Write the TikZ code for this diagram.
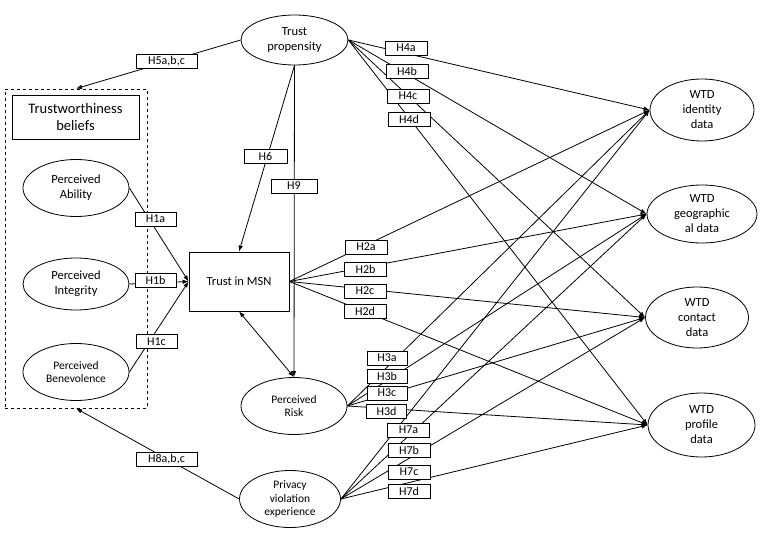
\documentclass[tikz,border=0pt]{standalone}
\usepackage{fontspec}
\setmainfont{Carlito}
\usetikzlibrary{arrows.meta,shapes.geometric}
\begin{document}
\begin{tikzpicture}[x=1pt,y=-1pt,
  ell/.style={draw, ellipse, inner sep=0pt, align=center, line width=0.8pt, font=\fontsize{12.5}{15}\selectfont},
  sell/.style={ell, font=\fontsize{11.5}{13.8}\selectfont},
  box/.style={draw, rectangle, inner sep=0pt, align=center, line width=0.8pt},
  lab/.style={draw, fill=white, rectangle, inner sep=0pt, minimum width=42pt, minimum height=14pt, line width=0.8pt, font=\fontsize{12}{14}\selectfont},
  conn/.style={line width=0.8pt, -{Latex[length=6pt,width=4.5pt]}},
  dconn/.style={line width=0.8pt, {Latex[length=6pt,width=4.5pt]}-{Latex[length=6pt,width=4.5pt]}}
]
\useasboundingbox (0,0) rectangle (765,537);
% dashed group
\node[draw, dashed, line width=0.8pt, minimum width=142pt, minimum height=319pt, inner sep=0pt] (tb) at (76,248.5) {};
\node[box, minimum width=127pt, minimum height=44pt, font=\fontsize{14.5}{17.5}\selectfont] (twb) at (75.5,117) {Trustworthiness\\beliefs};
\node[ell, minimum width=106pt, minimum height=57pt] (pa) at (76,188) {Perceived\\Ability};
\node[ell, minimum width=106pt, minimum height=52pt] (pi) at (76,284) {Perceived\\Integrity};
\node[sell, minimum width=106pt, minimum height=57pt] (pb) at (76,372) {Perceived\\Benevolence};
% center
\node[ell, minimum width=107pt, minimum height=50pt] (tp) at (294.5,40) {Trust\\propensity};
\node[box, minimum width=100pt, minimum height=59pt, font=\fontsize{12.5}{15}\selectfont] (msn) at (239,281.5) {Trust in MSN};
\node[sell, minimum width=106pt, minimum height=57pt] (pr) at (294,406) {Perceived\\Risk};
\node[sell, minimum width=101pt, minimum height=57pt] (pv) at (290,499) {Privacy\\violation\\experience};
% right
\node[ell, minimum width=104pt, minimum height=62pt] (id) at (702,110) {WTD\\identity\\data};
\node[ell, minimum width=110pt, minimum height=58pt] (geo) at (702,214) {WTD\\geographic\\al data};
\node[ell, minimum width=103pt, minimum height=61pt] (con) at (697,317.5) {WTD\\contact\\data};
\node[ell, minimum width=107pt, minimum height=64pt] (pro) at (701.5,425) {WTD\\profile\\data};
% connectors
\draw[conn] (tp.west) -- (tb.north);
\draw[conn] (pv.west) -- (tb.south);
\draw[conn] (tp.south) -- (msn.north);
\draw[conn] (tp.south) -- (pr.north);
\draw[dconn] (msn.south) -- (pr.north);
\draw[conn] (pa.east) -- (msn.west);
\draw[conn] (pi.east) -- (msn.west);
\draw[conn] (pb.east) -- (msn.west);
\foreach \s in {tp,msn,pr,pv}{
  \draw[conn] (\s.east) -- (id.west);
  \draw[conn] (\s.east) -- (geo.west);
  \draw[conn] (\s.east) -- (con.west);
  \draw[conn] (\s.east) -- (pro.west);
}
% labels
\node[lab, minimum width=61pt] (l5) at (166.5,61) {H5a,b,c};
\node[lab, minimum width=61pt] (l8) at (166.5,459) {H8a,b,c};
\node[lab, minimum width=43pt] (l6) at (265.5,156.5) {H6};
\node[lab, minimum width=46pt] (l9) at (294,186) {H9};
\node[lab, minimum width=41pt] (l1a) at (155.5,219) {H1a};
\node[lab, minimum width=41pt] (l1b) at (155.5,280.5) {H1b};
\node[lab, minimum width=41pt] (l1c) at (156.5,341.5) {H1c};
\node[lab] (l4a) at (406,48) {H4a};
\node[lab] (l4b) at (407,71) {H4b};
\node[lab] (l4c) at (408,96) {H4c};
\node[lab] (l4d) at (409,119) {H4d};
\node[lab] (l2a) at (366,247) {H2a};
\node[lab] (l2b) at (365.5,269.5) {H2b};
\node[lab] (l2c) at (365,291) {H2c};
\node[lab] (l2d) at (365,311.5) {H2d};
\node[lab, minimum width=40pt] (l3a) at (387,358) {H3a};
\node[lab, minimum width=40pt] (l3b) at (387,376) {H3b};
\node[lab, minimum width=40pt] (l3c) at (387,393) {H3c};
\node[lab, minimum width=40pt] (l3d) at (386.5,411.5) {H3d};
\node[lab] (l7a) at (408.5,430) {H7a};
\node[lab] (l7b) at (409,450) {H7b};
\node[lab] (l7c) at (409,472) {H7c};
\node[lab] (l7d) at (409,491) {H7d};
\end{tikzpicture}
\end{document}
